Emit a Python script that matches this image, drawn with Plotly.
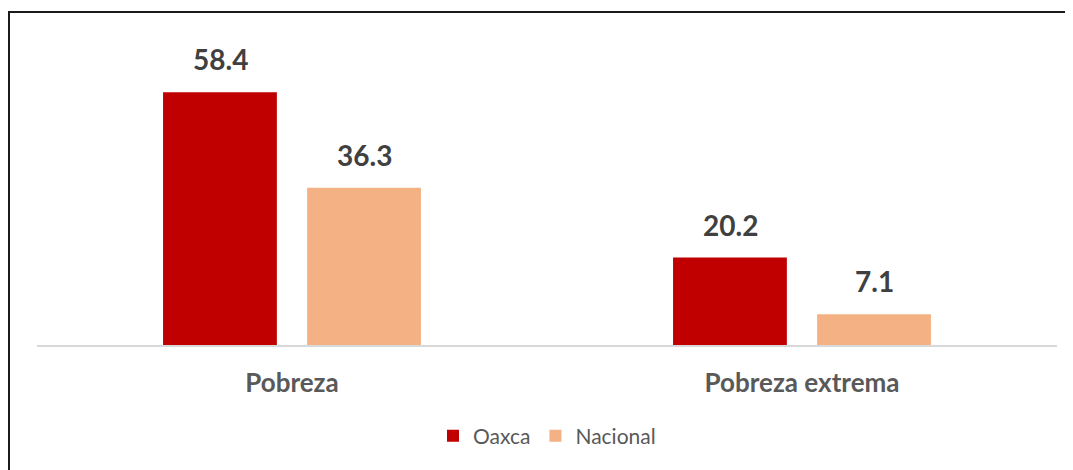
import plotly.graph_objects as go

categories = ["Pobreza", "Pobreza extrema"]
oaxaca = [58.4, 20.2]
nacional = [36.3, 7.1]
series_names = ["Oaxca", "Nacional"]
colors = ["#C00000", "#F4B183"]

FONT = "Lato, Open Sans, sans-serif"
OFF = 8  # page body margin

fig = go.Figure()
for name, vals, col in zip(series_names, [oaxaca, nacional], colors):
    fig.add_trace(go.Bar(x=categories, y=vals, name=name, marker=dict(color=col, line=dict(width=0))))

# data labels above bars
slot_px = 144
for i, vals in enumerate([oaxaca, nacional]):
    shift = (-0.5 + i) * slot_px
    for c, v in zip(categories, vals):
        fig.add_annotation(x=c, y=v, xref="x", yref="y", text=f"<b>{v:.1f}</b>",
                           showarrow=False, yanchor="bottom", xshift=shift, yshift=14,
                           font=dict(family=FONT, size=28, color="#404040"))

L = 37 - OFF
fig.update_layout(
    width=1073 - OFF, height=470 - OFF,
    margin=dict(l=L, r=16, t=42 - OFF, b=125),
    paper_bgcolor="white", plot_bgcolor="white",
    barmode="group", bargap=0.435, bargroupgap=0.21,
    showlegend=True,
    legend=dict(orientation="h", x=0.5, xanchor="center", y=-0.233, yanchor="top",
                font=dict(family=FONT, size=21, color="#595959"),
                itemwidth=30, traceorder="normal"),
    xaxis=dict(showline=True, linecolor="#D9D9D9", linewidth=2, showgrid=False,
               ticks="", ticklabelstandoff=14,
               tickfont=dict(family=FONT, size=26, color="#595959", weight="bold")),
    yaxis=dict(range=[0, 70], visible=False, showgrid=False, zeroline=False),
    shapes=[dict(type="rect", xref="paper", yref="paper",
                 x0=(1.0 - L) / 1020, x1=(1090 - 37) / 1020,
                 y0=(345 - 490) / 303, y1=(345 - 12) / 303,
                 line=dict(color="#1a1a1a", width=2), fillcolor="rgba(0,0,0,0)", layer="below")],
)

fig.write_html("out.html")
